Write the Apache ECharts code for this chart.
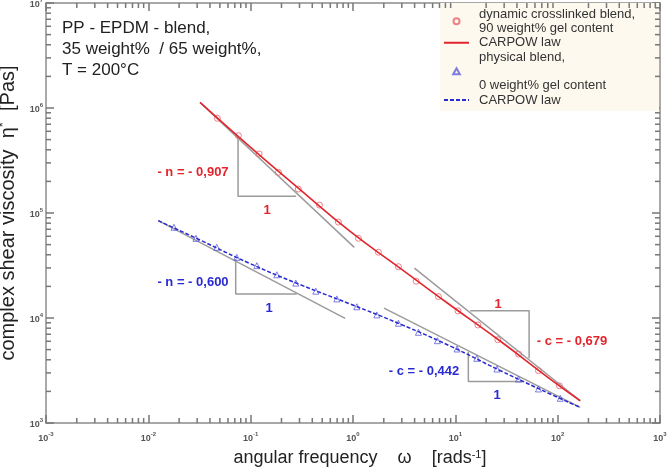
<!DOCTYPE html>
<html>
<head>
<meta charset="utf-8">
<script src="https://cdn.jsdelivr.net/npm/echarts@6/dist/echarts.min.js"></script>
<style>
  html, body { margin: 0; padding: 0; background: #fff; }
  #main { width: 670px; height: 472px; }
</style>
</head>
<body>
<div id="main"></div>
<script>
// dynamic crosslinked blend (90 wt% gel) - angular frequency [rad/s] and eta* [Pas]
const redOmega = [0.0473, 0.0759, 0.121, 0.187, 0.292, 0.470, 0.720, 1.13, 1.77, 2.78, 4.14, 6.84, 10.6, 16.6, 26.0, 41.4, 64.9, 104];
const redEta = [7.98e5, 5.45e5, 3.65e5, 2.44e5, 1.69e5, 1.19e5, 8.20e4, 5.74e4, 4.23e4, 3.08e4, 2.24e4, 1.60e4, 1.17e4, 8.58e3, 6.21e3, 4.54e3, 3.15e3, 2.26e3];

// physical blend (0 wt% gel)
const blueOmega = [0.0178, 0.0292, 0.0466, 0.0731, 0.115, 0.180, 0.276, 0.433, 0.695, 1.09, 1.71, 2.78, 4.36, 6.68, 10.4, 16.2, 25.5, 41.4, 64.9, 106];
const blueEta = [7.31e4, 5.74e4, 4.71e4, 3.78e4, 3.15e4, 2.58e4, 2.15e4, 1.80e4, 1.52e4, 1.28e4, 1.07e4, 8.91e3, 7.31e3, 6.08e3, 5.07e3, 4.13e3, 3.27e3, 2.62e3, 2.11e3, 1.72e3];

// CARPOW law fits
const redFitOmega = [0.032, 0.0986, 0.304, 0.938, 2.88, 8.89, 27.4, 84.5, 166];
const redFitEta = [1.13e6, 4.26e5, 1.67e5, 6.67e4, 2.99e4, 1.33e4, 6.04e3, 2.62e3, 1.63e3];
const blueFitOmega = [0.0125, 0.032, 0.0986, 0.304, 0.938, 2.88, 8.89, 27.4, 84.5, 166];
const blueFitEta = [8.45e4, 5.53e4, 3.30e4, 2.08e4, 1.36e4, 8.77e3, 5.41e3, 3.16e3, 1.89e3, 1.41e3];

// grey tangents and slope triangles [omega, eta]
const redLowTangent = [[0.032, 1.13e6], [1.03, 4.71e4]];
const redLowTriangle = [[0.0753, 5.45e5], [0.0753, 1.44e5], [0.278, 1.44e5]];
const blueLowTangent = [[0.0125, 8.45e4], [0.838, 9.93e3]];
const blueLowTriangle = [[0.0714, 3.65e4], [0.0714, 1.69e4], [0.2825, 1.69e4]];
const redHighTangent = [[3.98, 2.99e4], [166, 1.63e3]];
const redHighTriangle = [[13.96, 1.17e4], [52.6, 1.17e4], [52.6, 4.13e3]];
const blueHighTangent = [[2.01, 1.24e4], [166, 1.41e3]];
const blueHighTriangle = [[13.4, 4.78e3], [13.4, 2.49e3], [46, 2.49e3]];

// axes
const xMin = 1e-3, xMax = 1e3;
const yMin = 1e3, yMax = 1e7;
const xDecades = [-3, -2, -1, 0, 1, 2];
const yDecades = [3, 4, 5, 6];
const minorSteps = [2, 3, 4, 5, 6, 7, 8, 9];

const minorXValues = [];
xDecades.forEach(d => minorSteps.forEach(m => minorXValues.push(m * Math.pow(10, d))));
const minorYValues = [];
yDecades.forEach(d => minorSteps.forEach(m => minorYValues.push(m * Math.pow(10, d))));

const fontFamily = '"Liberation Sans", Arial, sans-serif';
const axisColor = '#8c8c8c';
const tickColor = '#777777';
const red = '#e2252c';
const blue = '#2a2ad2';
const grey = '#9b9b9b';

const nameRed = 'dynamic crosslinked blend,\n90 weight% gel content';
const nameBlue = 'physical blend,\n\n0 weight% gel content';

function pairs(xs, ys) {
  return xs.map((x, i) => [x, ys[i]]);
}

function powLabel(v) {
  return '{b|10}{e|' + Math.round(Math.log10(v)) + '}';
}

const labelRich = {
  b: { fontSize: 9, fontWeight: 'bold', color: '#555', fontFamily: fontFamily, verticalAlign: 'bottom', lineHeight: 12 },
  e: { fontSize: 6, fontWeight: 'bold', color: '#555', fontFamily: fontFamily, verticalAlign: 'top', lineHeight: 12 }
};

function axisBase(min, max) {
  return {
    type: 'log',
    logBase: 10,
    min: min,
    max: max,
    axisLine: { show: true, onZero: false, lineStyle: { color: axisColor, width: 1.5 } },
    axisTick: { show: true, inside: true, length: 8, lineStyle: { color: tickColor, width: 1.5 } },
    splitLine: { show: false }
  };
}

function greyLine(data) {
  return {
    type: 'line',
    data: data,
    symbol: 'none',
    silent: true,
    z: 2,
    lineStyle: { color: grey, width: 1.5 }
  };
}

function note(text, x, y, color) {
  return {
    type: 'text',
    x: x,
    y: y,
    silent: true,
    style: {
      text: text,
      fill: color,
      font: 'bold 13px ' + fontFamily,
      align: 'center',
      verticalAlign: 'middle'
    }
  };
}

const chart = echarts.init(document.getElementById('main'));

const noSymbol = { color: 'rgba(0,0,0,0)', borderColor: 'rgba(0,0,0,0)', borderWidth: 0 };

const notes = [
  {
    type: 'text',
    left: 62,
    top: 18,
    silent: true,
    style: {
      text: 'PP - EPDM - blend,\n35 weight%  / 65 weight%,\nT = 200°C',
      fill: '#222',
      font: '17px ' + fontFamily,
      lineHeight: 21
    }
  },
  note('- n = - 0,907', 193, 172, red),
  note('1', 267, 210, red),
  note('- n = - 0,600', 193, 282, blue),
  note('1', 269, 308, blue),
  note('1', 498, 304, red),
  note('- c = - 0,679', 572, 341, red),
  note('- c = - 0,442', 424, 371, blue),
  note('1', 497, 395, blue)
];

const option = {
  animation: false,
  backgroundColor: '#fff',
  grid: { left: 46, top: 3, right: 10, bottom: 49, containLabel: false, outerBoundsMode: 'none' },
  legend: {
    left: 440,
    top: 3,
    orient: 'vertical',
    itemGap: 0,
    itemWidth: 25,
    itemHeight: 6,
    symbolKeepAspect: true,
    padding: [4, 24, 4, 3],
    backgroundColor: '#fdf9ee',
    selectedMode: false,
    textStyle: { fontSize: 13, lineHeight: 14.3, color: '#333', fontFamily: fontFamily, padding: [0, 0, 0, 5] },
    data: [
      { name: nameRed, icon: 'circle' },
      { name: 'CARPOW law', itemStyle: noSymbol },
      { name: nameBlue, icon: 'path://M5,0L10,9L0,9Z' },
      { name: 'CARPOW law ', itemStyle: noSymbol }
    ]
  },
  xAxis: [
    Object.assign(axisBase(xMin, xMax), {
      position: 'bottom',
      name: 'angular frequency    ω    [rads{s|-1}]',
      nameLocation: 'middle',
      nameGap: 26,
      nameTextStyle: {
        fontSize: 18, color: '#222', fontFamily: fontFamily, padding: [0, 0, 0, 14],
        rich: { s: { fontSize: 11, color: '#222', fontFamily: fontFamily, verticalAlign: 'top', lineHeight: 18 } }
      },
      axisLabel: { margin: 8, formatter: powLabel, rich: labelRich }
    }),
    Object.assign(axisBase(xMin, xMax), {
      position: 'top',
      axisLabel: { show: false }
    })
  ],
  yAxis: [
    Object.assign(axisBase(yMin, yMax), {
      position: 'left',
      name: '{t|complex shear viscosity  η}{s|*}{t|  [Pas]}',
      nameLocation: 'middle',
      nameGap: 22,
      nameTextStyle: {
        rich: {
          t: { fontSize: 20, color: '#222', fontFamily: fontFamily, lineHeight: 22, verticalAlign: 'bottom' },
          s: { fontSize: 13, color: '#222', fontFamily: fontFamily, lineHeight: 22, verticalAlign: 'top' }
        }
      },
      axisLabel: { margin: 3, formatter: powLabel, rich: labelRich }
    }),
    Object.assign(axisBase(yMin, yMax), {
      position: 'right',
      axisLabel: { show: false }
    })
  ],
  graphic: notes,
  series: [
    greyLine(redLowTangent),
    greyLine(redLowTriangle),
    greyLine(blueLowTangent),
    greyLine(blueLowTriangle),
    greyLine(redHighTangent),
    greyLine(redHighTriangle),
    greyLine(blueHighTangent),
    greyLine(blueHighTriangle),
    {
      name: nameRed,
      type: 'scatter',
      symbol: 'circle',
      symbolSize: 6,
      z: 3,
      data: pairs(redOmega, redEta),
      itemStyle: { color: 'rgba(0,0,0,0)', borderColor: '#e8636b', borderWidth: 1 }
    },
    {
      name: nameBlue,
      type: 'scatter',
      symbol: 'triangle',
      symbolSize: 6,
      z: 3,
      data: pairs(blueOmega, blueEta),
      itemStyle: { color: 'rgba(0,0,0,0)', borderColor: '#5f5fd8', borderWidth: 1 }
    },
    {
      name: 'CARPOW law',
      type: 'line',
      smooth: true,
      symbol: 'none',
      z: 4,
      data: pairs(redFitOmega, redFitEta),
      itemStyle: { color: red },
      lineStyle: { color: red, width: 1.6 }
    },
    {
      name: 'CARPOW law ',
      type: 'line',
      smooth: true,
      symbol: 'none',
      z: 4,
      data: pairs(blueFitOmega, blueFitEta),
      itemStyle: { color: blue },
      lineStyle: { color: blue, width: 1.5, type: [4, 2] }
    }
  ]
};

chart.setOption(option);

// minor ticks (2..9 per decade) placed through the axes' own log scales
const frameLeft = chart.convertToPixel({ xAxisIndex: 0 }, xMin);
const frameRight = chart.convertToPixel({ xAxisIndex: 0 }, xMax);
const frameBottom = chart.convertToPixel({ yAxisIndex: 0 }, yMin);
const frameTop = chart.convertToPixel({ yAxisIndex: 0 }, yMax);
const minorLen = 5;
const tickStyle = { stroke: tickColor, lineWidth: 1.5 };
const minorTickEls = [];
minorXValues.forEach(v => {
  const x = chart.convertToPixel({ xAxisIndex: 0 }, v);
  minorTickEls.push({ type: 'line', silent: true, z: 50, shape: { x1: x, y1: frameBottom, x2: x, y2: frameBottom - minorLen }, style: tickStyle });
  minorTickEls.push({ type: 'line', silent: true, z: 50, shape: { x1: x, y1: frameTop, x2: x, y2: frameTop + minorLen }, style: tickStyle });
});
minorYValues.forEach(v => {
  const y = chart.convertToPixel({ yAxisIndex: 0 }, v);
  minorTickEls.push({ type: 'line', silent: true, z: 50, shape: { x1: frameLeft, y1: y, x2: frameLeft + minorLen, y2: y }, style: tickStyle });
  minorTickEls.push({ type: 'line', silent: true, z: 50, shape: { x1: frameRight, y1: y, x2: frameRight - minorLen, y2: y }, style: tickStyle });
});

chart.setOption({ graphic: notes.concat(minorTickEls) });
</script>
</body>
</html>
